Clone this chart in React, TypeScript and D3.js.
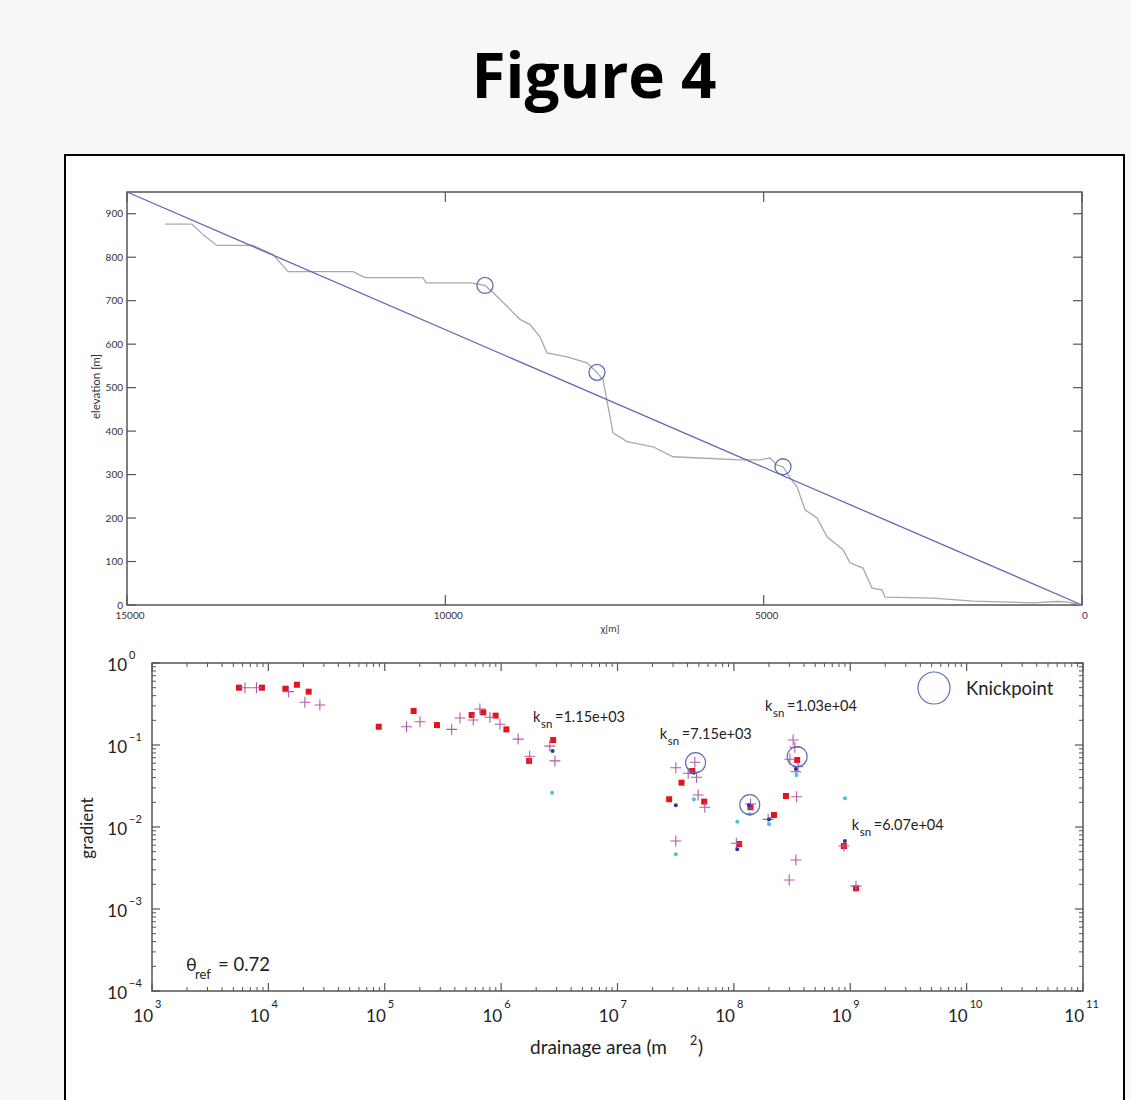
import React from "react";
import * as d3 from "d3";

// ---- top panel: longitudinal profile (chi vs elevation)
const profileChi = [14400, 13980, 13806, 13591, 13021, 12707, 12471, 11450, 11262, 10351, 10304, 9600, 9377,
  9251, 9031, 8827, 8670, 8513, 8403, 8089, 7775, 7618, 7523, 7366, 7146, 6738, 6424, 5372, 5057, 4900, 4790,
  4696, 4586, 4476, 4350, 4162, 4005, 3754, 3644, 3440, 3298, 3141, 3094, 2340, 1712, 770, 400, 235, 0];
const profileElev = [876, 876, 852, 827, 827, 806, 767, 767, 753, 753, 741, 741, 735,
  719, 687, 657, 645, 617, 580, 571, 557, 535, 518, 396, 376, 364, 341, 334, 334, 338, 322,
  318, 293, 272, 219, 200, 157, 127, 97, 85, 39, 35, 18, 16, 9, 5, 8, 7, 0];
const fitChi = [15000, 0];
const fitElev = [950, 0];
const knickChi = [9377, 7618, 4696];
const knickElev = [735, 535, 318];
const elevTicks = [0, 100, 200, 300, 400, 500, 600, 700, 800, 900];
const chiTicks = [15000, 10000, 5000, 0];

// ---- bottom panel: slope-area
const redArea = [5.59e3, 8.8e3, 1.4e4, 1.76e4, 2.22e4, 8.87e4, 1.77e5, 2.81e5, 5.58e5, 7.02e5, 8.97e5, 1.11e6,
  1.74e6, 2.8e6, 2.78e7, 3.55e7, 4.39e7, 5.56e7, 1.11e8, 1.39e8, 2.21e8, 2.8e8, 3.5e8, 8.81e8, 1.12e9];
const redGrad = [0.5, 0.5, 0.486, 0.543, 0.447, 0.167, 0.26, 0.175, 0.232, 0.25, 0.228, 0.155,
  0.064, 0.115, 0.0218, 0.0347, 0.0482, 0.0204, 0.0062, 0.0174, 0.014, 0.0239, 0.0656, 0.00586, 0.00179];
const plusArea = [6.3e3, 7.9e3, 1.49e4, 2.06e4, 2.77e4, 1.54e5, 2.01e5, 3.76e5, 4.43e5, 5.76e5, 6.57e5, 8.02e5,
  9.77e5, 1.4e6, 1.76e6, 2.62e6, 2.9e6, 3.17e7, 4.05e7, 4.62e7, 4.78e7, 4.93e7, 5.63e7, 3.17e7, 1.05e8, 1.39e8,
  1.97e8, 3.23e8, 3.34e8, 3.03e8, 3.56e8, 3.41e8, 3.46e8, 3.41e8, 2.99e8, 8.81e8, 1.12e9];
const plusGrad = [0.5, 0.5, 0.447, 0.332, 0.307, 0.167, 0.192, 0.155, 0.213, 0.202, 0.275, 0.218,
  0.179, 0.118, 0.073, 0.097, 0.064, 0.0529, 0.0452, 0.0615, 0.0404, 0.0246, 0.0174, 0.00675, 0.00633, 0.0191,
  0.0124, 0.115, 0.0938, 0.067, 0.0544, 0.0472, 0.0234, 0.00396, 0.00226, 0.00586, 0.0019];
const blueArea = [2.77e6, 3.17e7, 4.53e7, 1.35e8, 1.07e8, 2.01e8, 3.41e8, 9.0e8];
const blueGrad = [0.0845, 0.0184, 0.0459, 0.0184, 0.00535, 0.0124, 0.051, 0.00675];
const cyanArea = [2.74e6, 3.17e7, 4.53e7, 1.07e8, 1.37e8, 2.01e8, 3.46e8, 9.0e8];
const cyanGrad = [0.0262, 0.00465, 0.0218, 0.0116, 0.0143, 0.0108, 0.043, 0.0224];
const kpArea = [4.69e7, 1.37e8, 3.5e8];
const kpGrad = [0.0608, 0.0187, 0.072];
const kLabels = ["1.15e+03", "7.15e+03", "1.03e+04", "6.07e+04"];
const kLabelArea = [1.88e6, 2.31e7, 1.85e8, 1.03e9];
const kLabelGrad = [0.19, 0.118, 0.26, 0.0092];
const areaExp = [3, 4, 5, 6, 7, 8, 9, 10, 11];
const gradExp = [0, -1, -2, -3, -4];

const FONT = "Lato, 'Open Sans', sans-serif";
const AX = "#555";
const KP = "#5b6db8";

export default function App() {
  const xT = d3.scaleLinear().domain([15000, 0]).range([127, 1082]);
  const yT = d3.scaleLinear().domain([0, 950]).range([605, 192]);
  const xB = d3.scaleLog().domain([1e3, 1e11]).range([152, 1083]);
  const yB = d3.scaleLog().domain([1e-4, 1]).range([991, 663]);

  const prof = d3.line<number>().x((d, i) => xT(profileChi[i])).y((d, i) => yT(profileElev[i]));
  const fit = d3.line<number>().x((d, i) => xT(fitChi[i])).y((d, i) => yT(fitElev[i]));

  const [tx0, tx1] = xT.range();
  const [ty0, ty1] = yT.range();
  const [bx0, bx1] = xB.range();
  const [by0, by1] = yB.range();

  // minor log ticks (2..9 within each decade)
  const xMinor = xB.ticks(10).filter(v => Math.abs(Math.log10(v) % 1) > 1e-6);
  const yMinor = yB.ticks(10).filter(v => Math.abs(Math.log10(v) % 1) > 1e-6);

  return (
    <svg width={1131} height={1100} style={{ position: "absolute", left: 0, top: 0, background: "#f7f7f7" }}>
      <text x={594} y={98} textAnchor="middle" fontFamily="'Open Sans', sans-serif" fontWeight={700}
        fontSize={62} fill="#000">Figure 4</text>
      <rect x={65} y={155} width={1059} height={960} fill="#fff" stroke="#000" strokeWidth={2} />

      {/* ---------- top panel ---------- */}
      <g fontFamily={FONT} fontSize={10} fill="#333">
        <rect x={tx0} y={ty1} width={tx1 - tx0} height={ty0 - ty1}
          fill="none" stroke={AX} strokeWidth={1.5} />
        {elevTicks.map(v => (
          <g key={"e" + v}>
            <line x1={tx0} x2={tx0 + 9} y1={yT(v)} y2={yT(v)} stroke={AX} strokeWidth={1.2} />
            <line x1={tx1} x2={tx1 - 9} y1={yT(v)} y2={yT(v)} stroke={AX} strokeWidth={1.2} />
            <text x={tx0 - 4} y={yT(v) + 3.5} textAnchor="end">{v}</text>
          </g>
        ))}
        {chiTicks.map(v => (
          <g key={"c" + v}>
            <line x1={xT(v)} x2={xT(v)} y1={ty0} y2={ty0 - 10} stroke={AX} strokeWidth={1.2} />
            <line x1={xT(v)} x2={xT(v)} y1={ty1} y2={ty1 + 10} stroke={AX} strokeWidth={1.2} />
            <text x={xT(v) + 3} y={ty0 + 14} textAnchor="middle">{v}</text>
          </g>
        ))}
        <text x={610} y={632} textAnchor="middle">χ[m]</text>
        <text transform={`translate(100,${(ty0 + ty1) / 2 - 12}) rotate(-90)`} textAnchor="middle" fontSize={11.5}>elevation [m]</text>
        <path d={prof(profileChi) ?? ""} fill="none" stroke="#a9a9a9" strokeWidth={1.3} />
        <path d={fit(fitChi) ?? ""} fill="none" stroke={KP} strokeWidth={1.3} />
        {knickChi.map((c, i) => (
          <circle key={"k" + i} cx={xT(c)} cy={yT(knickElev[i])} r={8} fill="none" stroke={KP} strokeWidth={1.3} />
        ))}
      </g>

      {/* ---------- bottom panel ---------- */}
      <g fontFamily={FONT} fill="#222">
        <rect x={bx0} y={by1} width={bx1 - bx0} height={by0 - by1} fill="none" stroke={AX} strokeWidth={1.5} />
        {xMinor.map((v, i) => (
          <g key={"xm" + i}>
            <line x1={xB(v)} x2={xB(v)} y1={by0} y2={by0 - 4} stroke={AX} />
            <line x1={xB(v)} x2={xB(v)} y1={by1} y2={by1 + 4} stroke={AX} />
          </g>
        ))}
        {yMinor.map((v, i) => (
          <g key={"ym" + i}>
            <line x1={bx0} x2={bx0 + 4} y1={yB(v)} y2={yB(v)} stroke={AX} />
            <line x1={bx1} x2={bx1 - 4} y1={yB(v)} y2={yB(v)} stroke={AX} />
          </g>
        ))}
        {areaExp.map(e => {
          const x = xB(Math.pow(10, e));
          return (
            <g key={"xe" + e}>
              <line x1={x} x2={x} y1={by0} y2={by0 - 8} stroke={AX} strokeWidth={1.2} />
              <line x1={x} x2={x} y1={by1} y2={by1 + 8} stroke={AX} strokeWidth={1.2} />
              <text x={x + 1} y={by0 + 31} textAnchor="end" fontSize={17}>10</text>
              <text x={x + 3} y={by0 + 17} fontSize={11}>{e}</text>
            </g>
          );
        })}
        {gradExp.map(e => {
          const y = yB(Math.pow(10, e));
          return (
            <g key={"ye" + e}>
              <line x1={bx0} x2={bx0 + 8} y1={y} y2={y} stroke={AX} strokeWidth={1.2} />
              <line x1={bx1} x2={bx1 - 8} y1={y} y2={y} stroke={AX} strokeWidth={1.2} />
              <text x={127} y={y + 8} textAnchor="end" fontSize={17}>10</text>
              <text x={129} y={y - 4} fontSize={11}>{e < 0 ? "\u2212" + Math.abs(e) : e}</text>
            </g>
          );
        })}
        <text x={530} y={1054} fontSize={19}>drainage area (m</text>
        <text x={690} y={1045} fontSize={12.5}>2</text>
        <text x={698} y={1054} fontSize={19}>)</text>
        <text transform="translate(93,828) rotate(-90)" textAnchor="middle" fontSize={17}>gradient</text>
        <text x={186} y={971} fontSize={18}>θ</text>
        <text x={195} y={979} fontSize={13}>ref</text>
        <text x={218} y={971} fontSize={18.5}>= 0.72</text>

        {redArea.map((a, i) => (
          <rect key={"r" + i} x={xB(a) - 3} y={yB(redGrad[i]) - 3} width={6} height={6} fill="#e3141b" />
        ))}
        {plusArea.map((a, i) => (
          <path key={"p" + i}
            d={`M${xB(a) - 5.5},${yB(plusGrad[i])}h11M${xB(a)},${yB(plusGrad[i]) - 5.5}v11`}
            stroke="#b35aa8" strokeWidth={1.1} fill="none" />
        ))}
        {blueArea.map((a, i) => (
          <circle key={"b" + i} cx={xB(a)} cy={yB(blueGrad[i])} r={2} fill="#2b3893" />
        ))}
        {cyanArea.map((a, i) => (
          <circle key={"cy" + i} cx={xB(a)} cy={yB(cyanGrad[i])} r={2} fill="#45c6d6" />
        ))}
        {kpArea.map((a, i) => (
          <circle key={"kp" + i} cx={xB(a)} cy={yB(kpGrad[i])} r={10} fill="none" stroke={KP} strokeWidth={1.2} />
        ))}
        {kLabels.map((l, i) => {
          const x = xB(kLabelArea[i]);
          const y = yB(kLabelGrad[i]);
          return (
            <g key={"kl" + i} fontSize={14.5}>
              <text x={x} y={y}>k</text>
              <text x={x + 8} y={y + 6} fontSize={11.5}>sn</text>
              <text x={x + 22} y={y}>={l}</text>
            </g>
          );
        })}
        <circle cx={934} cy={688} r={16} fill="none" stroke={KP} strokeWidth={1.2} />
        <text x={966} y={695} fontSize={18.5}>Knickpoint</text>
      </g>
    </svg>
  );
}
